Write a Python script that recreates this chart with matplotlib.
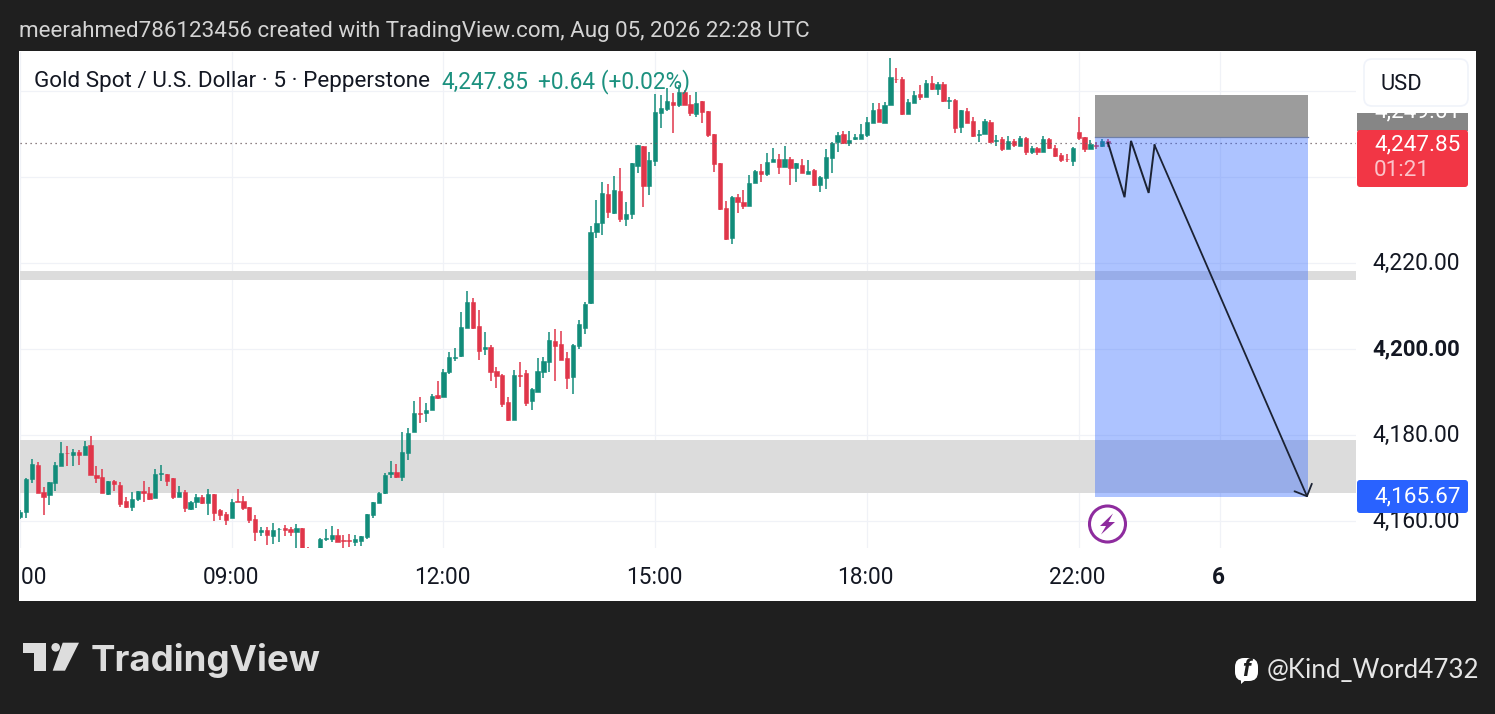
import matplotlib
matplotlib.use("Agg")
import matplotlib.pyplot as plt
import numpy as np
from matplotlib.patches import Rectangle, FancyBboxPatch, Polygon, Circle
from matplotlib.transforms import IdentityTransform, Bbox, Affine2D

W, H = 1495, 714
plt.rcParams['font.family'] = ['Roboto', 'DejaVu Sans']

opens = [4161.0,4162.2,4169.7,4173.0,4166.7,4166.1,4168.9,4172.9,4175.8,4175.4,
 4176.1,4175.4,4177.7,4170.7,4170.2,4166.3,4169.2,4168.4,4164.7,4163.3,
 4165.1,4167.0,4166.5,4165.4,4170.9,4170.9,4170.0,4165.6,4166.8,4162.8,
 4164.4,4165.6,4164.3,4166.3,4162.6,4161.7,4160.6,4164.7,4164.7,4163.3,
 4160.5,4157.5,4157.8,4156.6,4158.1,4158.4,4158.1,4157.5,4158.4,4153.0,
 4152.5,4152.0,4155.8,4155.8,4156.8,4155.6,4155.6,4155.1,4155.4,4156.3,
 4161.4,4164.2,4166.4,4171.0,4171.3,4170.3,4175.9,4180.6,4185.1,4185.1,
 4185.7,4189.2,4188.9,4194.7,4198.0,4198.4,4205.0,4210.9,4205.3,4199.9,
 4200.4,4194.8,4193.9,4187.7,4183.6,4193.9,4194.4,4187.8,4190.1,4194.7,
 4196.9,4201.8,4201.2,4197.8,4193.6,4200.8,4205.0,4210.8,4227.2,4229.2,
 4236.0,4231.7,4236.8,4230.3,4231.5,4242.6,4247.1,4237.8,4243.8,4255.0,
 4255.8,4257.4,4256.7,4259.8,4256.9,4254.6,4257.6,4255.3,4250.0,4243.3,
 4232.7,4225.9,4235.3,4234.2,4233.3,4238.5,4241.3,4240.6,4243.6,4244.3,
 4242.3,4244.3,4242.2,4242.8,4240.8,4241.6,4238.2,4239.8,4244.5,4248.1,
 4250.0,4248.0,4248.8,4248.8,4249.8,4252.6,4255.7,4252.6,4256.7,4262.9,
 4262.8,4254.6,4257.3,4259.2,4258.6,4261.9,4260.5,4261.6,4257.7,4257.9,
 4251.7,4255.3,4253.0,4249.8,4250.0,4252.9,4248.4,4248.9,4246.6,4248.3,
 4247.2,4249.1,4245.7,4246.7,4245.7,4248.8,4246.7,4245.2,4244.3,4243.8,
 4250.5,4249.2,4246.6,4247.4,4247.3,4248.4]

highs = [4162.6,4169.9,4174.4,4173.7,4168.0,4169.1,4173.7,4178.4,4177.5,4176.7,
 4176.5,4178.6,4179.8,4172.7,4172.1,4169.4,4169.6,4169.1,4165.5,4166.8,
 4167.0,4169.3,4168.0,4172.1,4173.0,4170.9,4170.0,4168.2,4167.2,4164.7,
 4166.3,4166.0,4167.4,4166.3,4162.7,4162.0,4165.1,4167.4,4165.8,4163.3,
 4161.4,4158.5,4158.5,4159.5,4158.3,4159.1,4158.5,4159.2,4158.4,4154.0,
 4153.0,4156.0,4158.1,4158.9,4158.1,4156.7,4157.0,4156.8,4156.5,4161.6,
 4164.4,4166.8,4171.1,4174.0,4173.3,4180.6,4181.6,4187.9,4188.9,4187.5,
 4189.5,4192.6,4195.3,4199.3,4200.2,4208.5,4213.6,4211.8,4209.1,4204.0,
 4200.9,4195.7,4194.2,4188.8,4195.1,4197.0,4195.1,4190.9,4197.8,4198.1,
 4204.0,4204.7,4204.2,4199.2,4201.2,4206.7,4211.0,4228.5,4234.7,4238.9,
 4238.3,4240.2,4242.0,4234.2,4243.3,4247.4,4247.1,4245.8,4259.2,4259.1,
 4260.6,4259.5,4261.4,4260.2,4259.1,4259.7,4257.6,4255.3,4250.0,4243.3,
 4234.4,4235.6,4236.0,4237.0,4240.5,4241.6,4243.0,4245.5,4246.7,4245.4,
 4247.1,4244.6,4243.3,4244.2,4244.0,4241.9,4240.2,4246.4,4248.2,4250.5,
 4250.7,4250.7,4250.0,4252.3,4253.9,4257.1,4257.3,4257.4,4267.6,4265.3,
 4263.3,4258.1,4260.1,4261.4,4262.6,4263.5,4262.2,4262.0,4258.7,4258.1,
 4255.5,4256.0,4253.9,4250.9,4253.5,4253.3,4249.8,4249.2,4249.5,4248.8,
 4249.5,4249.4,4247.1,4246.9,4249.6,4249.1,4247.4,4245.5,4245.3,4246.9,
 4254.0,4249.2,4248.6,4248.2,4248.9,4248.8]

lows = [4160.5,4160.8,4168.9,4166.4,4161.3,4163.7,4167.0,4172.9,4172.9,4172.7,
 4173.0,4175.4,4170.6,4168.8,4166.4,4166.1,4166.9,4163.2,4163.1,4162.4,
 4164.7,4164.5,4164.9,4165.4,4169.4,4168.2,4165.1,4165.6,4162.2,4162.6,
 4163.1,4164.0,4161.4,4160.0,4160.3,4159.1,4160.6,4164.4,4162.6,4159.6,
 4155.4,4156.4,4154.4,4154.7,4155.2,4156.6,4156.4,4153.8,4152.8,4151.5,
 4151.0,4151.5,4155.4,4155.2,4155.1,4153.8,4154.0,4154.2,4154.2,4155.8,
 4160.8,4164.2,4166.3,4170.0,4169.9,4169.4,4174.2,4180.6,4182.9,4183.1,
 4185.7,4188.3,4188.9,4194.3,4197.3,4198.2,4205.0,4204.7,4197.5,4198.5,
 4192.6,4191.0,4186.6,4183.3,4183.6,4191.2,4186.8,4185.7,4190.1,4193.2,
 4194.7,4192.6,4197.5,4190.6,4189.6,4200.1,4203.5,4210.5,4225.7,4226.6,
 4230.5,4231.4,4229.6,4228.7,4230.2,4241.0,4233.1,4235.9,4242.6,4251.5,
 4255.4,4250.2,4256.2,4256.8,4254.3,4254.0,4252.5,4249.2,4241.2,4232.3,
 4225.4,4224.5,4231.7,4232.6,4233.3,4238.5,4238.8,4240.3,4243.6,4240.8,
 4242.3,4238.1,4238.9,4240.9,4240.8,4238.0,4236.6,4237.1,4240.9,4245.9,
 4247.7,4247.3,4248.5,4248.8,4249.2,4252.6,4252.8,4252.6,4256.7,4261.8,
 4254.4,4254.6,4257.1,4257.8,4258.5,4260.2,4259.1,4257.4,4255.8,4250.2,
 4250.2,4252.6,4249.2,4248.2,4249.9,4247.8,4247.1,4246.0,4246.4,4246.9,
 4247.2,4245.2,4245.3,4245.2,4245.7,4246.4,4244.7,4243.6,4243.5,4242.6,
 4248.5,4245.7,4246.4,4246.4,4246.9,4246.9]

closes = [4162.2,4169.7,4173.3,4166.4,4165.6,4169.1,4173.0,4175.8,4175.7,4176.1,
 4175.4,4177.5,4170.6,4169.9,4166.4,4169.3,4168.5,4164.0,4163.3,4165.1,
 4167.0,4166.5,4165.1,4170.9,4171.1,4169.4,4165.6,4166.7,4163.0,4164.4,
 4165.6,4164.3,4166.3,4161.9,4161.4,4160.3,4164.4,4164.4,4163.1,4160.3,
 4157.5,4157.9,4156.8,4157.8,4158.2,4157.8,4157.5,4158.4,4153.0,4152.5,
 4151.8,4155.8,4156.1,4156.8,4155.2,4155.4,4155.4,4155.8,4156.5,4161.6,
 4164.4,4166.4,4170.7,4171.5,4170.3,4176.0,4180.4,4185.1,4185.0,4185.8,
 4189.1,4188.6,4194.6,4198.1,4198.2,4205.1,4210.9,4205.0,4199.6,4200.4,
 4194.7,4193.7,4187.2,4183.5,4193.9,4193.8,4187.4,4190.7,4194.9,4197.1,
 4202.1,4200.8,4197.5,4193.3,4200.9,4205.8,4210.5,4227.1,4229.2,4236.2,
 4231.9,4236.9,4230.3,4231.4,4243.3,4247.4,4237.8,4243.9,4255.1,4256.0,
 4257.6,4256.8,4259.8,4256.8,4254.9,4257.2,4255.2,4249.8,4243.1,4232.6,
 4225.6,4235.4,4234.3,4233.3,4238.5,4241.3,4240.8,4243.6,4244.1,4242.4,
 4244.3,4242.2,4243.3,4241.0,4241.5,4238.1,4240.0,4244.6,4247.8,4249.8,
 4247.8,4248.6,4249.2,4250.0,4252.8,4255.6,4252.9,4256.7,4263.2,4262.7,
 4254.6,4257.4,4259.1,4258.7,4261.9,4260.5,4261.7,4257.7,4257.9,4251.4,
 4255.5,4252.6,4249.5,4250.0,4253.1,4248.1,4248.6,4246.5,4248.3,4247.4,
 4249.0,4245.9,4246.7,4245.7,4248.8,4246.7,4245.0,4244.0,4244.1,4246.7,
 4249.1,4246.6,4247.6,4247.2,4248.4,4247.85]

time_ticks = [0, 36, 72, 108, 144, 180, 204]
time_labels = ['06:00', '09:00', '12:00', '15:00', '18:00', '22:00', '6']
price_ticks = [4160, 4180, 4200, 4220, 4240, 4260]
price_labels = ['4,160.00', '4,180.00', '4,200.00', '4,220.00', '4,240.00', '4,260.00']
zones = [(4216.0, 4218.1), (4166.5, 4178.8)]
last_price = 4247.85
entry, stop, target = 4249.3, 4259.1, 4165.6
box_start, box_end = 182.83, 219.0
path_x = [185.0, 187.8, 188.9, 191.9, 192.9, 218.9]
path_y = [4247.9, 4235.3, 4248.4, 4236.3, 4247.4, 4165.5]

GREEN, RED = '#128c7a', '#e0364a'
GRID = '#f0f2f7'
INK = '#131722'

fig = plt.figure(figsize=(W / 100, H / 100), dpi=100, facecolor='#1f1f1f')


def px_rect(x0, y0, x1, y1, color, r=0.0, ec='none', lw=0, z=5):
    if r > 0:
        p = FancyBboxPatch((x0 + r, H - y1 + r), x1 - x0 - 2 * r, y1 - y0 - 2 * r,
                           boxstyle=f'round,pad={r},rounding_size={r}', fc=color,
                           ec=ec, lw=lw, transform=IdentityTransform(), zorder=z)
    else:
        p = Rectangle((x0, H - y1), x1 - x0, y1 - y0, fc=color, ec=ec, lw=lw,
                      transform=IdentityTransform(), zorder=z)
    fig.add_artist(p)
    return p


def px_text(x, y, s, size, color=INK, z=6, **kw):
    kw.setdefault('va', 'center')
    kw.setdefault('ha', 'left')
    return fig.text(x / W, 1 - y / H, s, fontsize=size, color=color, zorder=z, **kw)


# white chart panel
px_rect(19, 51, 1476, 601, '#ffffff', z=-1)

# main pane
L, R, T, B = 20, 1356, 52, 548
ax = fig.add_axes([L / W, 1 - B / H, (R - L) / W, (B - T) / H], facecolor='white')
X0, XS = 230.3, 5.889
ax.set_xlim(36 + (L - X0) / XS, 36 + (R - X0) / XS)
ax.set_ylim(4200 - (B - 349) / 4.3, 4200 + (349 - T) / 4.3)
for s in ax.spines.values():
    s.set_visible(False)

ax.set_xticks(time_ticks, time_labels)
ax.set_yticks(price_ticks, price_labels)
ax.yaxis.tick_right()
ax.tick_params(axis='x', length=0, pad=13, labelsize=16.3, labelcolor=INK)
ax.tick_params(axis='y', length=0, pad=12, labelsize=16.5, labelcolor=INK)
ax.grid(True, color=GRID, lw=0.9, zorder=0.5)
ax.set_axisbelow(True)
panel_clip = Bbox([[L, H - 601], [1400, H - 548]])
for lab in ax.get_xticklabels():
    lab.set_clip_box(panel_clip)
    lab.set_clip_on(True)
    lab.set_transform(lab.get_transform() + Affine2D().translate(-1.2, 0))
for lab in ax.get_yticklabels():
    lab.set_transform(lab.get_transform() + Affine2D().translate(0, 2))
ax.get_xticklabels()[-1].set_fontweight('bold')
ax.get_yticklabels()[2].set_fontweight('bold')
ax.get_yticklabels()[2].set_fontsize(15.9)

for lo, hi in zones:
    ax.axhspan(lo, hi, color='#dcdcdc', lw=0, zorder=1)

idx = np.arange(len(opens))
o, h, l, c = map(np.array, (opens, highs, lows, closes))
colors = [GREEN if ci >= oi else RED for oi, ci in zip(o, c)]
ax.vlines(idx, l, h, colors=colors, lw=1.1, zorder=2)
ax.bar(idx, np.abs(c - o), bottom=np.minimum(o, c), width=0.72, color=colors,
       edgecolor=colors, linewidth=0.4, zorder=2.1)

ax.axhline(last_price, color='#6b5a5e', lw=0.9, ls=(0, (1, 3)), zorder=2.5)

# position tool
ax.add_patch(Rectangle((box_start, entry), box_end - box_start, stop - entry,
                       fc='#9c9c9c', ec='none', zorder=3))
ax.add_patch(Rectangle((box_start, target), box_end - box_start, entry - target,
                       fc='#2962ff', alpha=0.38, ec='none', zorder=3))
ax.plot([box_start, box_end], [entry, entry], color='#6f7fa8', lw=0.9, zorder=3.2)

ax.plot(path_x[:-1], path_y[:-1], color='#1b2233', lw=1.4, zorder=4,
        solid_joinstyle='miter')
ax.annotate('', xy=(path_x[-1], path_y[-1]), xytext=(path_x[-2], path_y[-2]),
            arrowprops=dict(arrowstyle='->,head_length=0.4,head_width=0.4', color='#1b2233',
                            lw=1.3, shrinkA=0, shrinkB=0, mutation_scale=17), zorder=4)

# price tags
px_rect(1357, 113, 1468, 131, '#868686')
gray_txt = px_text(1374, 112, '4,249.01', 16.2, color='white')
gray_txt.set_clip_box(Bbox([[1357, H - 130], [1468, H - 113]]))
gray_txt.set_clip_on(True)
px_rect(1357, 130, 1468, 187, '#f23645', r=3)
px_text(1374, 145, '4,247.85', 16.2, color='white')
px_text(1374, 170.5, '01:21', 16.2, color='#fbc4ca')
px_rect(1357, 480, 1468, 513, '#2962ff', r=3)
px_text(1374, 497, '4,165.67', 16.2, color='white')

# currency button
px_rect(1364, 59, 1468, 106, 'white', r=8, ec='#f0f3fa', lw=1.2)
px_text(1381, 85, 'USD', 15.8)

# title + header
px_text(34, 82, 'Gold Spot / U.S. Dollar · 5 · Pepperstone', 16.2)
px_text(441, 82, '4,247.85', 16.3, color='#1c917f')
px_text(538, 82, '+0.64 (+0.02%)', 16.3, color='#1c917f')
px_text(19, 32, 'meerahmed786123456 created with TradingView.com, Aug 05, 2026 22:28 UTC',
        16.1, color='#d4d4d4')

# flash icon
PURPLE = '#8e2c9e'
fig.add_artist(Circle((1107.5, H - 524), 18, fc='white', ec=PURPLE, lw=2.2,
                      transform=IdentityTransform(), zorder=5))
bolt = [(1113, 513.5), (1100, 526), (1106, 526), (1101, 534.5), (1115, 522), (1108.5, 522)]
fig.add_artist(Polygon([(x, H - y) for x, y in bolt], closed=True, fc=PURPLE, ec='none',
                       transform=IdentityTransform(), zorder=6))

# TradingView logo
LOGO = '#dddddd'
t_shape = [(22.7, 642.7), (45.7, 642.7), (45.7, 670.7), (34, 670.7), (34, 653.3), (22.7, 653.3)]
slash = [(62.7, 642.7), (79, 642.7), (65, 670.7), (52.7, 670.7)]
for poly in (t_shape, slash):
    fig.add_artist(Polygon([(x, H - y) for x, y in poly], closed=True, fc=LOGO, ec='none',
                           transform=IdentityTransform(), zorder=6))
fig.add_artist(Circle((55.7, H - 647.3), 4.3, fc=LOGO, ec='none',
                      transform=IdentityTransform(), zorder=6))
px_text(91, 671, 'TradingView', 26.4, color=LOGO, va='baseline',
        family=['Inter', 'DejaVu Sans'], weight='bold')

# watermark
px_rect(1235, 658, 1258, 681, 'white', r=9)
fig.add_artist(Polygon([(1241, H - 678), (1241, H - 684), (1248, H - 678)], closed=True,
                       fc='white', ec='none', transform=IdentityTransform(), zorder=5))
px_text(1246.5, 670, 'f', 17, color='#1f1f1f', ha='center', weight='bold', style='italic')
px_text(1267, 677.5, '@Kind_Word4732', 18.75, color='#e6e6e6', va='baseline',
        family=['Lato', 'DejaVu Sans'])

fig.savefig('out.png', dpi=100, facecolor=fig.get_facecolor())
